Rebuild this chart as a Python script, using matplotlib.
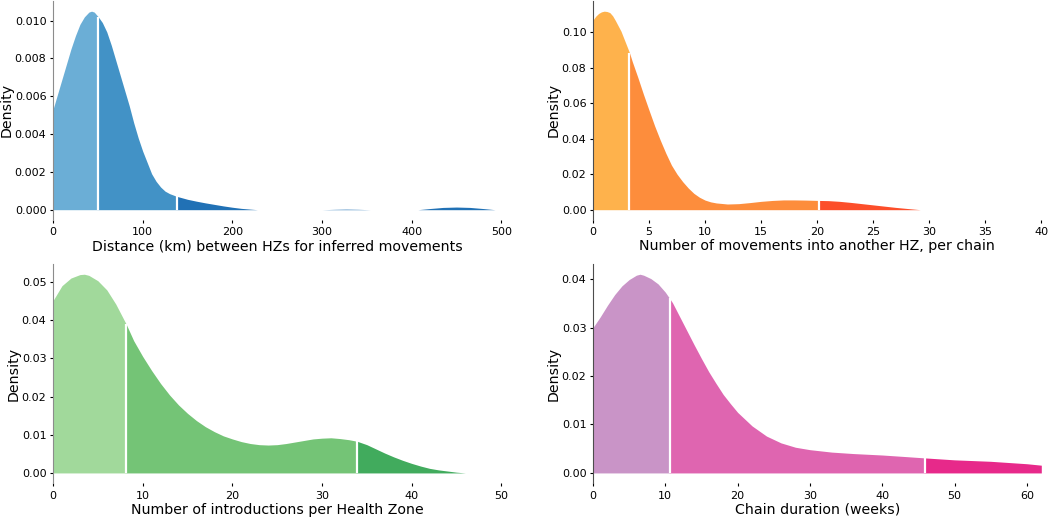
import numpy as np
import matplotlib.pyplot as plt

# distance between HZs (km)
dist_x = [0, 5, 10, 15, 20, 25, 30, 35, 40, 43, 46, 50.5, 55, 60, 65, 70, 75, 80, 85, 90, 95,
          100, 105, 110, 115, 120, 125, 130, 135, 138.5, 150, 160, 170, 180, 190, 200, 210,
          220, 228, 300, 315, 327, 340, 354, 407, 420, 435, 450, 465, 480, 493]
dist_y = [0.0053, 0.0061, 0.0069, 0.0077, 0.0085, 0.0092, 0.0098, 0.0102, 0.01045, 0.0105,
          0.01045, 0.0102, 0.0099, 0.0094, 0.0087, 0.0079, 0.0071, 0.0063, 0.0055, 0.0046,
          0.0038, 0.0031, 0.0025, 0.0019, 0.0015, 0.0012, 0.00098, 0.00085, 0.00076, 0.0007,
          0.00055, 0.00045, 0.00036, 0.00028, 0.0002, 0.00013, 0.00007, 0.00003, 0.0,
          0.0, 0.00002, 0.00003, 0.00002, 0.0, 0.0, 0.00006, 0.00012, 0.00014, 0.00012,
          0.00006, 0.0]
dist_cuts = [50.5, 138.5]

# movements into another HZ per chain
move_x = [0, 0.25, 0.5, 0.75, 1.0, 1.25, 1.5, 1.75, 2.0, 2.5, 3.0, 3.25, 3.5, 4.0, 4.5, 5.0,
          5.5, 6.0, 6.5, 7.0, 7.5, 8.0, 8.5, 9.0, 9.5, 10, 10.5, 11, 12, 13, 14, 15, 16, 17,
          18, 19, 20.2, 21, 22, 23, 24, 25, 26, 27, 28, 29.2]
move_y = [0.1068, 0.1090, 0.1105, 0.1114, 0.1118, 0.1116, 0.1110, 0.1092, 0.1065, 0.1005,
          0.0925, 0.0885, 0.0835, 0.0745, 0.0650, 0.0560, 0.0472, 0.0392, 0.0318, 0.0251,
          0.0200, 0.0158, 0.0122, 0.0092, 0.0070, 0.0054, 0.0044, 0.0038, 0.0032, 0.0034,
          0.0040, 0.0047, 0.0052, 0.0055, 0.0055, 0.0054, 0.0052, 0.0051, 0.0047, 0.0041,
          0.0034, 0.0027, 0.0020, 0.0013, 0.0007, 0.0]
move_cuts = [3.25, 20.2]

# introductions per Health Zone
intro_x = [0, 1, 2, 3, 3.5, 4, 5, 6, 7, 8.15, 9, 10, 11, 12, 13, 14, 15, 16, 17, 18, 19,
           20, 21, 22, 23, 24, 25, 26, 27, 28, 29, 30, 31, 32, 33, 33.9, 35, 36, 37, 38,
           39, 40, 41, 42, 43, 44, 45, 46]
intro_y = [0.0451, 0.0490, 0.0510, 0.0519, 0.0520, 0.0517, 0.0503, 0.0479, 0.0442, 0.0390,
           0.0346, 0.0305, 0.0268, 0.0234, 0.0204, 0.0178, 0.0156, 0.0137, 0.0121, 0.0108,
           0.0097, 0.0089, 0.0082, 0.0077, 0.0074, 0.0073, 0.0074, 0.0077, 0.0081, 0.0085,
           0.0089, 0.0091, 0.0092, 0.0090, 0.0087, 0.0083, 0.0074, 0.0063, 0.0052, 0.0042,
           0.0033, 0.0025, 0.0018, 0.0012, 0.0008, 0.0005, 0.0002, 0.0]
intro_cuts = [8.15, 33.9]

# chain duration (weeks)
dur_x = [0, 1, 2, 3, 4, 5, 6, 6.5, 7, 8, 9, 10, 10.6, 11, 12, 13, 14, 15, 16, 17, 18, 19,
         20, 22, 24, 26, 28, 30, 33, 36, 40, 43, 45.9, 50, 55, 58, 60, 62]
dur_y = [0.0300, 0.0322, 0.0346, 0.0368, 0.0386, 0.0399, 0.0408, 0.0410, 0.0408, 0.0401,
         0.0390, 0.0373, 0.0360, 0.0351, 0.0322, 0.0293, 0.0264, 0.0236, 0.0209, 0.0185,
         0.0162, 0.0143, 0.0125, 0.0097, 0.0076, 0.0062, 0.0053, 0.0048, 0.0043, 0.0040,
         0.0037, 0.0034, 0.0031, 0.0027, 0.0024, 0.0021, 0.0019, 0.0016]
dur_cuts = [10.6, 45.9]

blues = ["#6baed6", "#4292c6", "#2171b5"]
oranges = ["#feb24c", "#fd8d3c", "#fc4e2a"]
greens = ["#a1d99b", "#74c476", "#41ab5d"]
pinks = ["#c994c7", "#df65b0", "#e7298a"]


def plot_density(ax, x, y, cuts, colors, xlabel, xmax, spine_color):
    x = np.array(x)
    y = np.array(y)
    edges = [x[0]] + cuts + [x[-1]]
    for lo, hi, c in zip(edges[:-1], edges[1:], colors):
        m = (x >= lo) & (x <= hi)
        ax.fill_between(x[m], 0, y[m], color=c, lw=0)
    for c in cuts:
        ax.vlines(c, 0, y[x == c][0], color="white", lw=1.6)
    ax.set_xlim(0, xmax)
    ax.set_ylim(-0.05 * y.max(), 1.05 * y.max())
    ax.set_xlabel(xlabel, fontsize=10.2, labelpad=1.5)
    ax.set_ylabel("Density", fontsize=10.2, labelpad=0.5)
    for s in ["top", "right", "bottom"]:
        ax.spines[s].set_visible(False)
    ax.spines["left"].set_color(spine_color)
    ax.tick_params(axis="x", length=2, width=0.8, labelsize=8, pad=3.5)
    ax.tick_params(axis="y", length=2.5, width=0.8, labelsize=8, pad=2.2)


fig = plt.figure(figsize=(10.5, 5.17), dpi=100)
w = 448.3 / 1050
ax1 = fig.add_axes([53 / 1050, 0.5752, w, 0.4224])
ax2 = fig.add_axes([593 / 1050, 0.5752, w, 0.4224])
ax3 = fig.add_axes([53 / 1050, 0.0660, w, 0.4228])
ax4 = fig.add_axes([593 / 1050, 0.0660, w, 0.4228])

plot_density(ax1, dist_x, dist_y, dist_cuts, blues,
             "Distance (km) between HZs for inferred movements", 500, "0.55")
plot_density(ax2, move_x, move_y, move_cuts, oranges,
             "Number of movements into another HZ, per chain", 40, "0.3")
plot_density(ax3, intro_x, intro_y, intro_cuts, greens,
             "Number of introductions per Health Zone", 50, "0.55")
plot_density(ax4, dur_x, dur_y, dur_cuts, pinks,
             "Chain duration (weeks)", 62, "0.3")
ax1.set_xticks([0, 100, 200, 300, 400, 500])
ax4.set_xticks([0, 10, 20, 30, 40, 50, 60])

fig.savefig("out.png", dpi=100)
